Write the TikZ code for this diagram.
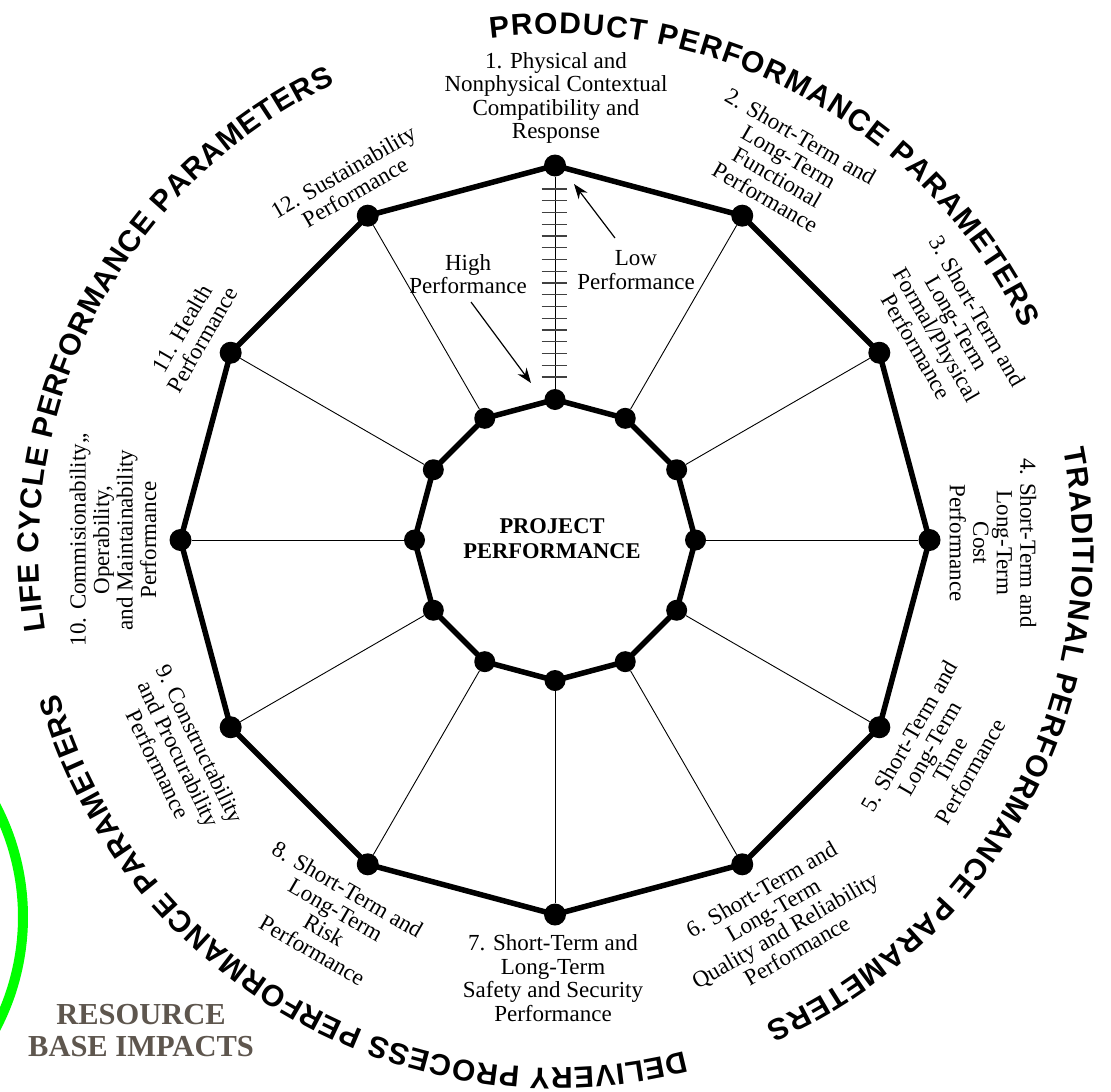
\documentclass[tikz,border=0pt]{standalone}
\usepackage{fontspec}
\setmainfont{Liberation Serif}
\newfontfamily\arcsans{Liberation Sans}
\usetikzlibrary{decorations.text,arrows.meta}
\definecolor{resbrown}{RGB}{94,86,78}
\definecolor{vividgreen}{RGB}{0,255,0}
\newcommand\arcfmt{\arcsans\bfseries\fontsize{30}{30}\selectfont}
\begin{document}
\begin{tikzpicture}[x=1pt,y=1pt,
  lbl/.style={font=\fontsize{23}{23.5}\selectfont, align=center, inner sep=0pt},
  polyline/.style={line width=5.5pt, line join=round},
  spoke/.style={line width=0.9pt},
  dot/.style={circle, fill=black, inner sep=0pt, minimum size=#1},
  dot/.default=22pt,
  tickline/.style={line width=1.2pt, black!75},
  arr/.style={line width=1.2pt, -{Stealth[length=15pt,width=11pt]}},
  arctext/.style={decorate, decoration={text along path, text align={fit to path}, text={|\arcfmt|#1}}},
  centertitle/.style={font=\bfseries\fontsize{22.5}{25}\selectfont, align=center, inner sep=0pt},
  resource/.style={font=\bfseries\fontsize{30.5}{32}\selectfont, align=center, inner sep=0pt, text=resbrown},
]
\useasboundingbox (0,0) rectangle (1111,-1092);
\coordinate (C) at (555,-540);
\coordinate (TC) at (556,-551);
\foreach \i in {1,...,12}{
  \pgfmathsetmacro\ang{90-30*(\i-1)}
  \path (C) ++(\ang:374.5) coordinate (o\i);
  \path (C) ++(\ang:140.5) coordinate (n\i);
}
% green resource arc
\begin{scope}
  \clip (0,0) rectangle (1111,-1092);
  \coordinate (GC) at (-217,-917);
  \path (GC) ++(40:240) coordinate (G1);
  \draw[vividgreen, line width=10pt] (G1) arc[start angle=40, end angle=-40, radius=240];
\end{scope}
% dots
\foreach \i in {1,...,12}{
  \node[dot] (O\i) at (o\i) {};
  \node[dot=21pt] (I\i) at (n\i) {};
}
% spokes
\foreach \i in {1,...,12}{
  \draw[spoke] (I\i) -- (O\i);
}
% ladder ticks
\foreach \k in {0,...,16}{
  \draw[tickline] (541.5,{-189-11.75*\k}) -- (566.5,{-189-11.75*\k});
}
% polygons
\draw[polyline] (O1.center) \foreach \i in {2,...,12}{ -- (O\i.center) } -- cycle;
\draw[polyline] (I1.center) \foreach \i in {2,...,12}{ -- (I\i.center) } -- cycle;
% labels
\node[lbl] (L1) at (556,-98) {1. Physical and\\Nonphysical Contextual\\Compatibility and\\Response};
\node[lbl, rotate=-30] (L2) at (783,-167) {2. Short-Term and\\Long-Term\\Functional\\Performance};
\node[lbl, rotate=-60] (L3) at (947,-329) {3. Short-Term and\\Long-Term\\Formal/Physical\\Performance};
\node[lbl, rotate=-90] (L4) at (993,-543) {4. Short-Term and\\Long-Term\\Cost\\Performance};
\node[lbl, rotate=60] (L5) at (940,-754) {5. Short-Term and\\Long-Term\\Time\\Performance};
\node[lbl, rotate=30] (L6) at (779,-920) {6. Short-Term and\\Long-Term\\Quality and Reliability\\Performance};
\node[lbl] (L7) at (553,-978) {7. Short-Term and\\Long-Term\\Safety and Security\\Performance};
\node[lbl, rotate=-30] (L8) at (330,-920) {8. Short-Term and\\Long-Term\\Risk\\Performance};
\node[lbl, rotate=-64] (L9) at (179,-754) {9. Constructability\\and Procurability\\Performance};
\node[lbl, rotate=90] (L10) at (113,-540) {10. Commisionability,,\\Operability,\\and Maintainability\\Performance};
\node[lbl, rotate=60] (L11) at (192,-334) {11. Health\\Performance};
\node[lbl, rotate=30] (L12) at (349,-182) {12. Sustainability\\Performance};
\node[centertitle] (PP) at (552,-539) {PROJECT\\PERFORMANCE};
\node[lbl] (HP) at (468,-274) {High\\Performance};
\node[lbl] (LP) at (636,-270) {Low\\Performance};
% arrows
\coordinate (LA) at (615,-238); \coordinate (LB) at (574,-184);
\draw[arr] (LA) -- (LB);
\coordinate (HA) at (471,-302); \coordinate (HB) at (531,-383);
\draw[arr] (HA) -- (HB);
% arc titles
\path (TC) ++(97.3:517) coordinate (A1);
\path (TC) ++(11.3:517) coordinate (A2);
\path (TC) ++(-75.6:517) coordinate (A3);
\path (TC) ++(188.9:517) coordinate (A4);
\path[arctext={PRODUCT PERFORMANCE PARAMETERS}] (A1) arc[start angle=97.3, end angle=25.5, radius=517];
\path[arctext={TRADITIONAL PERFORMANCE PARAMETERS}] (A2) arc[start angle=11.3, end angle=-66, radius=517];
\path[arctext={DELIVERY PROCESS PERFORMANCE PARAMETERS}] (A3) arc[start angle=-75.6, end angle=-164, radius=517];
\path[arctext={LIFE CYCLE PERFORMANCE PARAMETERS}] (A4) arc[start angle=188.9, end angle=115.3, radius=517];
% resource base
\node[resource] (RB) at (141,-1031) {RESOURCE\\BASE IMPACTS};
\end{tikzpicture}
\end{document}
